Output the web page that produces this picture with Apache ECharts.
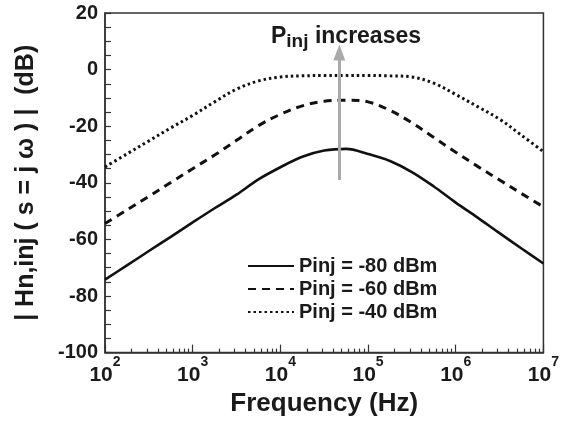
<!DOCTYPE html>
<html>
<head>
<meta charset="utf-8">
<script src="https://cdn.jsdelivr.net/npm/echarts@6/dist/echarts.min.js"></script>
<style>
  html, body { margin: 0; padding: 0; background: #fff; }
  #main { width: 562px; height: 422px; }
</style>
</head>
<body>
<div id="main"></div>
<script>
// log10 of frequency (Hz), quarter-decade steps
var logF = [2, 2.25, 2.5, 2.75, 3, 3.25, 3.5, 3.75, 4, 4.25, 4.5, 4.75, 5, 5.25, 5.5, 5.75, 6, 6.25, 6.5, 6.75, 7];
// |Hn,inj| in dB for each injected power
var p80 = [-74.2, -69.2, -64.1, -59.1, -54.0, -49.0, -44.2, -38.8, -34.5, -30.8, -28.6, -28.0, -29.8, -32.3, -36.2, -41.3, -47.0, -52.3, -57.8, -63.2, -68.5];
var p60 = [-54.4, -49.6, -44.8, -39.9, -35.0, -30.2, -25.0, -19.8, -15.8, -12.8, -11.2, -10.8, -11.4, -14.4, -18.8, -24.0, -29.2, -34.2, -39.0, -43.8, -48.5];
var p40 = [-34.4, -29.8, -25.2, -20.6, -16.2, -11.4, -6.9, -4.0, -2.6, -2.2, -2.1, -2.1, -2.1, -2.2, -2.6, -4.8, -8.8, -13.1, -17.5, -23.2, -29.0];
var names = ['Pinj = -80 dBm', 'Pinj = -60 dBm', 'Pinj = -40 dBm'];
// minor log ticks 2..9 per decade
var minorTicks = [];
for (var d = 2; d < 7; d++) {
  for (var m = 2; m <= 9; m++) minorTicks.push(m * Math.pow(10, d));
}
// arrow: from x, yStart to yEnd
var arrowX = 47000, arrowY0 = -39, arrowY1 = 6;

function pairs(vals) {
  var out = [];
  for (var i = 0; i < logF.length; i++) out.push([Math.pow(10, logF[i]), vals[i]]);
  return out;
}

var myChart = echarts.init(document.getElementById('main'));
var FONT = '"Liberation Sans", Arial, sans-serif';
var ink = '#1a1a1a';

var option = {
  animation: false,
  textStyle: { fontFamily: FONT },
  grid: {
    left: 105, right: 14, top: 13, bottom: 69,
    show: true, borderColor: '#333', borderWidth: 1.5, backgroundColor: 'transparent'
  },
  legend: {
    orient: 'vertical',
    left: 242, top: 251,
    itemWidth: 46, itemHeight: 14, itemGap: 3,
    itemStyle: { opacity: 0 },
    textStyle: { fontSize: 20, fontWeight: 'bold', color: ink, fontFamily: FONT },
    data: names
  },
  graphic: [{
    type: 'text',
    left: 271, top: 25,
    style: {
      text: '{p|P}{s|inj}{t| increases}',
      rich: {
        p: { fontSize: 23, fontWeight: 'bold', fill: ink, fontFamily: FONT },
        s: { fontSize: 19, fontWeight: 'bold', fill: ink, fontFamily: FONT, padding: [10, 0, 0, 0] },
        t: { fontSize: 23, fontWeight: 'bold', fill: ink, fontFamily: FONT }
      }
    }
  }],
  xAxis: [{
    type: 'log',
    logBase: 10,
    min: 100, max: 1e7,
    position: 'bottom',
    name: 'Frequency (Hz)',
    nameLocation: 'middle',
    nameGap: 36,
    nameTextStyle: { fontSize: 26, fontWeight: 'bold', color: ink, fontFamily: FONT },
    axisLine: { onZero: false, lineStyle: { color: '#333', width: 1.5 } },
    axisTick: { inside: true, length: 8, lineStyle: { color: '#333', width: 1.2 } },
    splitLine: { show: false },
    axisLabel: {
      margin: 3,
      formatter: function (v) { return '{b|10}{e|' + Math.round(Math.log10(v)) + '}'; },
      rich: {
        b: { fontSize: 21, fontWeight: 'bold', color: ink, fontFamily: FONT },
        e: { fontSize: 14, fontWeight: 'bold', color: ink, fontFamily: FONT, padding: [0, 0, 26, 0] }
      }
    }
  }, {
    type: 'log',
    logBase: 10,
    min: 100, max: 1e7,
    position: 'bottom',
    axisLine: { show: false, onZero: false },
    axisLabel: { show: false },
    splitLine: { show: false },
    axisTick: { inside: true, length: 4, customValues: minorTicks, lineStyle: { color: '#333', width: 1.2 } }
  }],
  yAxis: {
    type: 'value',
    min: -100, max: 20, interval: 20,
    name: '| Hn,inj ( s = j ω ) |  (dB)',
    nameLocation: 'middle',
    nameGap: 66,
    nameTextStyle: { fontSize: 25, fontWeight: 'bold', color: ink, fontFamily: FONT },
    axisLine: { show: true, onZero: false, lineStyle: { color: '#333', width: 1.5 } },
    axisTick: { show: true, inside: true, length: 6, lineStyle: { color: '#333', width: 1.2 } },
    minorTick: { show: true, splitNumber: 4, length: 6, lineStyle: { color: '#333', width: 1.2 } },
    splitLine: { show: false },
    axisLabel: { margin: 7, fontSize: 20, fontWeight: 'bold', color: ink, fontFamily: FONT }
  },
  series: [{
    name: names[0], type: 'line', data: pairs(p80), showSymbol: false, symbol: 'none', smooth: 0.35,
    lineStyle: { color: '#111', width: 2.6, type: 'solid' }, itemStyle: { color: '#111' },
    markLine: {
      silent: true, symbol: ['none', 'triangle'], symbolSize: [12, 16],
      label: { show: false },
      lineStyle: { color: '#aaa', width: 3, type: 'solid' },
      data: [[{ coord: [arrowX, arrowY0] }, { coord: [arrowX, arrowY1] }]]
    }
  }, {
    name: names[1], type: 'line', data: pairs(p60), showSymbol: false, symbol: 'none', smooth: 0.35,
    lineStyle: { color: '#111', width: 3, type: [8, 6] }, itemStyle: { color: '#111' }
  }, {
    name: names[2], type: 'line', data: pairs(p40), showSymbol: false, symbol: 'none', smooth: 0.35,
    lineStyle: { color: '#111', width: 3, type: [2.5, 3] }, itemStyle: { color: '#111' }
  }]
};

myChart.setOption(option);
window.addEventListener('resize', function () {
  myChart.resize();
});
</script>
</body>
</html>
